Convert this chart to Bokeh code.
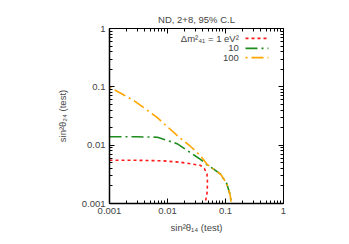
from bokeh.plotting import figure
from bokeh.models import LogAxis, FixedTicker, Label, Range1d
from bokeh.embed import file_html
from bokeh.resources import INLINE

# Data (sin^2 theta14, sin^2 theta24)
x_1ev = [0.001, 0.003, 0.008, 0.0166, 0.025, 0.037, 0.043, 0.048, 0.049, 0.048, 0.046, 0.045]
y_1ev = [0.0055, 0.0055, 0.0054, 0.0051, 0.0048, 0.0045, 0.0040, 0.0032, 0.0022, 0.0015, 0.0012, 0.001]

x_10ev = [0.001, 0.003, 0.0067, 0.0146, 0.025, 0.037, 0.048, 0.06, 0.082, 0.105, 0.118, 0.122, 0.125]
y_10ev = [0.0139, 0.0139, 0.0137, 0.0106, 0.0074, 0.0057, 0.0046, 0.0040, 0.0032, 0.0022, 0.0015, 0.00128, 0.001]

x_100ev = [0.001, 0.0026, 0.0066, 0.0146, 0.025, 0.037, 0.048, 0.06, 0.082, 0.105, 0.118, 0.122, 0.125]
y_100ev = [0.099, 0.0585, 0.030, 0.0147, 0.0095, 0.0066, 0.0047, 0.0040, 0.0032, 0.0022, 0.0015, 0.00128, 0.001]

tick_values = [0.001, 0.01, 0.1, 1]
tick_labels = ["0.001", "0.01", "0.1", "1"]
legend_labels = ["Δm²₄₁ = 1 eV²", "10", "100"]

FONT = "Liberation Sans"
minor = [m * 10.0**e for e in range(-3, 0) for m in range(2, 10)]

p = figure(width=341, height=236, x_axis_type="log", y_axis_type="log",
           x_range=Range1d(0.001, 1), y_range=Range1d(0.001, 1),
           output_backend="svg", toolbar_location=None,
           min_border_left=109, min_border_right=58, min_border_top=28, min_border_bottom=33)
p.title.text = "ND, 2+8, 95% C.L"
p.title.align = "center"
p.title.text_font = FONT
p.title.text_font_size = "9.5px"
p.title.text_font_style = "normal"
p.title.offset = 0
p.title.standoff = 8

p.grid.visible = False
p.outline_line_color = "black"
p.outline_line_width = 1

for ax in (p.xaxis[0], p.yaxis[0]):
    ax.ticker = FixedTicker(ticks=tick_values, minor_ticks=minor)
    ax.major_label_overrides = {v: l for v, l in zip(tick_values, tick_labels)}
    ax.major_label_text_font = FONT
    ax.major_label_text_font_size = "9.5px"
    ax.axis_label_text_font = FONT
    ax.axis_label_text_font_size = "9.5px"
    ax.axis_label_text_font_style = "normal"
    ax.major_tick_in = 5
    ax.major_tick_out = 0
    ax.minor_tick_in = 3
    ax.minor_tick_out = 0
    ax.axis_line_color = "black"
    ax.axis_line_width = 1.5
    ax.axis_label_standoff = 5
    ax.major_label_standoff = 4

p.xaxis.axis_label = "sin²θ₁₄ (test)"
p.yaxis.axis_label = "sin²θ₂₄ (test)"
p.yaxis.axis_label_standoff = 11

for loc in ("above", "right"):
    ax = LogAxis(ticker=FixedTicker(ticks=tick_values, minor_ticks=minor),
                 major_label_text_font_size="1px", major_label_text_color=None,
                 major_label_standoff=0,
                 major_tick_in=5, major_tick_out=0, minor_tick_in=3, minor_tick_out=0)
    p.add_layout(ax, loc)

styles = [
    (x_1ev, y_1ev, "#ff1a1a", "3 3"),
    (x_10ev, y_10ev, "#1f8c1f", "12 4 2 4"),
    (x_100ev, y_100ev, "#ffa500", "2 4 12 4"),
]
for xs, ys, c, d in styles:
    p.line(xs, ys, line_color=c, line_width=1.6, line_dash=d)

# custom legend (text left, sample right), gnuplot style
leg_y = [10**-0.17, 10**-0.34, 10**-0.50]
for (xs, ys, c, d), lab, ly in zip(styles, legend_labels, leg_y):
    p.line([10**-0.655, 10**-0.26], [ly, ly], line_color=c, line_width=1.6, line_dash=d)
    p.add_layout(Label(x=10**-0.77, y=ly, text=lab, text_align="right", text_baseline="middle",
                       text_font=FONT, text_font_size="9.5px"))

open("out.html", "w").write(file_html(p, INLINE))
